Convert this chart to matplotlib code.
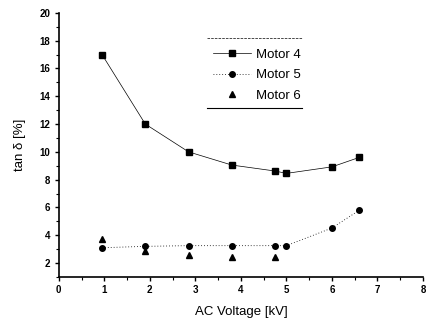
import numpy as np
import matplotlib.pyplot as plt
from matplotlib.ticker import MultipleLocator

plt.rcParams['font.family'] = ['Liberation Sans', 'DejaVu Sans']

# AC voltage [kV] and tan delta [%]
v45 = [0.95, 1.9, 2.85, 3.8, 4.75, 5.0, 6.0, 6.6]
motor4 = [17.0, 12.0, 10.0, 9.05, 8.62, 8.45, 8.92, 9.6]
motor5 = [3.1, 3.2, 3.25, 3.25, 3.25, 3.25, 4.52, 5.8]
v6 = [0.95, 1.9, 2.85, 3.8, 4.75]
motor6 = [3.75, 2.9, 2.55, 2.45, 2.42]

fig = plt.figure(figsize=(4.26, 3.22), dpi=100)
ax = fig.add_axes([0.138, 0.14, 0.855, 0.82])

ax.plot(v45, motor4, color='k', lw=0.5, ls='-', marker='s', ms=4, label='Motor 4')
ax.plot(v45, motor5, color='k', lw=0.6, ls=(0, (1, 2.5)), marker='o', ms=4, label='Motor 5')
ax.plot(v6, motor6, color='k', lw=0, marker='^', ms=4, label='Motor 6')

ax.set_xlim(0, 8)
ax.set_ylim(1, 20)
ax.xaxis.set_major_locator(MultipleLocator(1))
ax.xaxis.set_minor_locator(MultipleLocator(0.5))
ax.yaxis.set_major_locator(MultipleLocator(2))
ax.yaxis.set_minor_locator(MultipleLocator(1))
ax.spines['top'].set_visible(False)
ax.spines['right'].set_visible(False)
ax.spines['left'].set_linewidth(1.2)
ax.spines['bottom'].set_linewidth(1.2)
ax.tick_params(which='major', length=3, width=1, labelsize=7, pad=3)
ax.tick_params(which='minor', length=2, width=0.8)
for lab in ax.get_xticklabels() + ax.get_yticklabels():
    lab.set_fontweight('bold')

ax.set_xlabel('AC Voltage [kV]', fontsize=9.5, labelpad=8)
ax.set_ylabel('tan \u03b4 [%]', fontsize=9.5, labelpad=10)

leg = ax.legend(loc='upper left', bbox_to_anchor=(0.423, 0.865), fontsize=9.5,
                frameon=False, handlelength=2.9, handletextpad=0.35,
                labelspacing=0.62, borderpad=0, borderaxespad=0)
# legend box drawn as top and bottom rules only
ax.plot([0.407, 0.668], [0.905, 0.905], transform=ax.transAxes, color='k', lw=0.5, ls='--')
ax.plot([0.407, 0.668], [0.64, 0.64], transform=ax.transAxes, color='k', lw=0.8)

fig.savefig('out.png', dpi=100)
